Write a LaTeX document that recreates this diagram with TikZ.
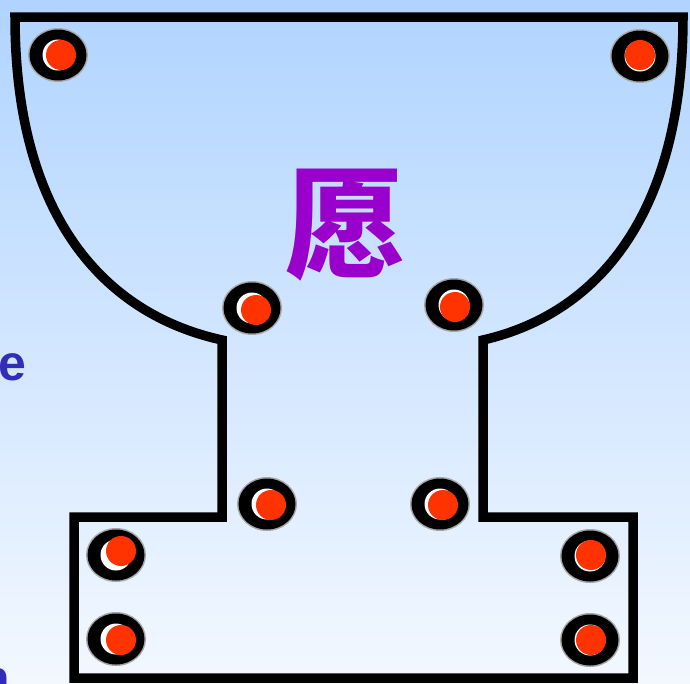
\documentclass[tikz,border=0pt]{standalone}
\usepackage{fontspec}
\setmainfont{Liberation Sans}
\newfontfamily\cjk{Noto Sans CJK SC}
\definecolor{bgtop}{RGB}{176,212,255}
\definecolor{bgbot}{RGB}{243,248,255}
\definecolor{dotred}{RGB}{255,51,0}
\definecolor{glyphpurple}{RGB}{153,0,204}
\definecolor{txtblue}{RGB}{50,45,185}
\newcommand\ringdot[5]{%
  \fill[black!35] (#2,#3) ellipse [x radius=30, y radius=27];
  \fill[black] (#2,#3) ellipse [x radius=28.5, y radius=25.5];
  \fill[white] (#2,#3) circle [radius=15.5];
  \node[circle, fill=dotred, minimum size=30pt, inner sep=0pt] (#1) at (#4,#5) {};
}
\begin{document}
\begin{tikzpicture}[x=1pt,y=-1pt,
  outline/.style={line width=9.5pt, line join=miter, draw=black},
  sidetext/.style={text=txtblue, font=\bfseries\fontsize{50}{50}\selectfont, inner sep=0pt}]
\useasboundingbox (0,0) rectangle (690,683);
\clip (0,0) rectangle (690,683);
\shade[top color=bgtop, bottom color=bgbot] (0,0) rectangle (690,683);
% cup outline
\draw[outline] (15,17) -- (683,17)
  .. controls (683,205) and (605,312) .. (483,340)
  -- (483,517) -- (633,517) -- (633,678) -- (74,678) -- (74,517)
  -- (222,517) -- (222,340)
  .. controls (95,312) and (15,205) .. (15,17) -- cycle;
% dots
\ringdot{d1}{58}{55}{61}{55}
\ringdot{d2}{640}{56}{640}{55}
\ringdot{d3}{252}{308}{256}{310}
\ringdot{d4}{454}{305}{455}{307}
\ringdot{d5}{267}{504}{271}{505}
\ringdot{d6}{440}{504}{443}{505}
\ringdot{d7}{116}{555}{121}{551}
\ringdot{d8}{116}{639}{121}{640}
\ringdot{d9}{590}{556}{591}{555}
\ringdot{d10}{590}{640}{591}{640}
% character
\node[text=glyphpurple, font=\cjk\bfseries\fontsize{120}{120}\selectfont, inner sep=0pt] (ch) at (345,225) {愿};
% side texts (cut off at the left edge, as in the reference)
\node[sidetext, anchor=base east] (te) at (27,380) {e};
\node[sidetext, anchor=base east] (tn) at (10,695) {n};
\end{tikzpicture}
\end{document}
